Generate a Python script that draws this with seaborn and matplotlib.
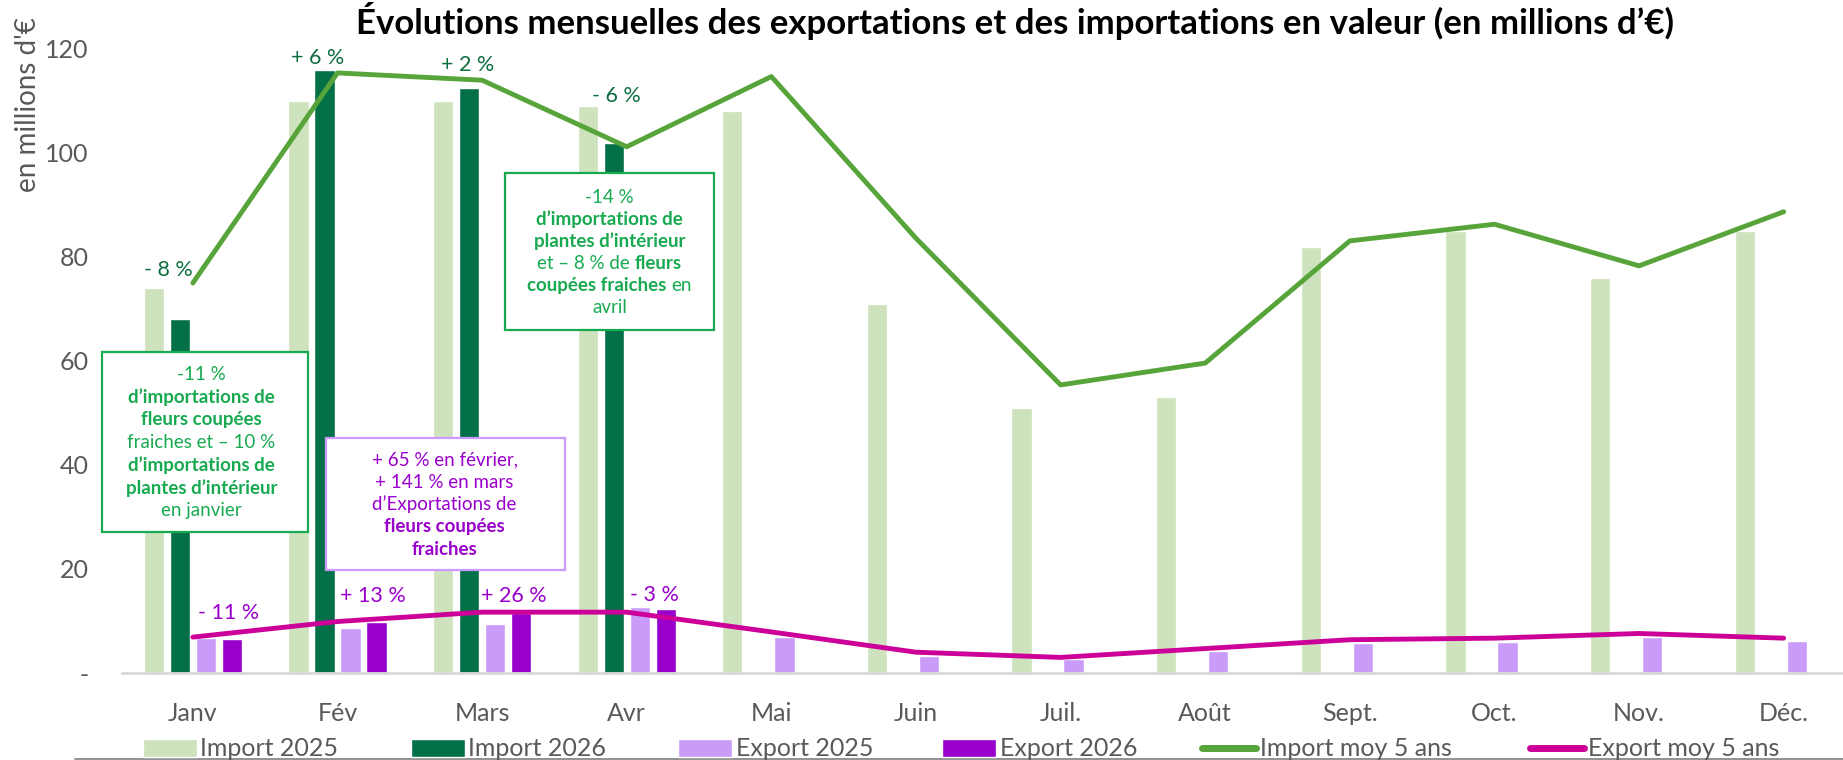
import numpy as np
import pandas as pd
import matplotlib
matplotlib.use("Agg")
import matplotlib.pyplot as plt
import seaborn as sns
from matplotlib.patches import Rectangle, Patch
from matplotlib.lines import Line2D
from matplotlib.transforms import ScaledTranslation

# --- data (millions d'€) ---
mois = ['Janv', 'Fév', 'Mars', 'Avr', 'Mai', 'Juin', 'Juil.', 'Août', 'Sept.', 'Oct.', 'Nov.', 'Déc.']
import_2025 = [74, 110, 110, 109, 108, 71, 51, 53, 82, 85, 76, 85]
import_2026 = [68, 116, 112.5, 102]
export_2025 = [6.7, 8.7, 9.5, 12.7, 7.0, 3.3, 2.7, 4.2, 5.8, 5.9, 7.0, 6.1]
export_2026 = [6.6, 9.8, 11.5, 12.4]
import_moy5 = [75, 115.4, 114, 101.2, 114.7, 83.6, 55.4, 59.6, 83.1, 86.3, 78.3, 88.7]
export_moy5 = [6.9, 9.9, 11.7, 11.7, 7.9, 4.0, 3.0, 4.7, 6.4, 6.7, 7.6, 6.7]

var_import = ['- 8 %', '+ 6 %', '+ 2 %', '- 6 %']
var_export = ['- 11 %', '+ 13 %', '+ 26 %', '- 3 %']

series = ['Import 2025', 'Import 2026', 'Export 2025', 'Export 2026']
couleurs = {'Import 2025': '#cde2bd', 'Import 2026': '#037048',
            'Export 2025': '#c99cfa', 'Export 2026': '#9900cc'}
c_imp_moy = '#57a53a'
c_exp_moy = '#cc0099'
vert_txt = '#0d6e3f'
vert_box = '#17aa50'
violet = '#9900cc'
gris = '#595959'

rows = []
for nom, vals in zip(series, [import_2025, import_2026, export_2025, export_2026]):
    for m, v in zip(mois, vals):
        rows.append({'mois': m, 'serie': nom, 'valeur': v})
df = pd.DataFrame(rows)

sns.set_style("white")
plt.rcParams['font.family'] = ['Lato', 'DejaVu Sans']

W, H = 1843, 760
fig = plt.figure(figsize=(W / 100, H / 100), dpi=100)
ax = fig.add_axes([122 / W, 87 / H, 1 - 122 / W, 650 / H])

sns.barplot(data=df, x='mois', y='valeur', hue='serie', order=mois, hue_order=series,
            palette=couleurs, width=0.72, gap=0.22, errorbar=None, legend=False,
            saturation=1, ax=ax, zorder=2)

x = np.arange(len(mois))
sns.lineplot(x=x, y=import_moy5, color=c_imp_moy, lw=3.5, ax=ax, zorder=4,
             solid_capstyle='round')
sns.lineplot(x=x, y=export_moy5, color=c_exp_moy, lw=3.5, ax=ax, zorder=4,
             solid_capstyle='round')

ax.set_xlim(-0.49, 11.41)
ax.set_ylim(0, 125)
ax.set_yticks([0, 20, 40, 60, 80, 100, 120])
ax.set_yticklabels(['-', '20', '40', '60', '80', '100', '120'])
ax.set_xticks(x)
ax.set_xticklabels(mois)
ax.tick_params(axis='both', length=0, labelsize=18, labelcolor=gris)
ax.tick_params(axis='x', pad=21)
ax.tick_params(axis='y', pad=24)
ax.set_xlabel('')
ax.set_ylabel('')
for s in ['top', 'right', 'left']:
    ax.spines[s].set_visible(False)
ax.spines['bottom'].set_color('#d9d9d9')
ax.spines['bottom'].set_linewidth(2)

fig.text(0.015, 1 - 105 / H, "en millions d'€", rotation=90, ha='center', va='center',
         fontsize=20, color=gris)
fig.suptitle("Évolutions mensuelles des exportations et des importations en valeur (en millions d’€)",
             x=0.551, y=0.972, va='center', fontsize=25, fontweight='bold', color='black')

# variation labels
pos_imp = [(-0.17, 77.5), (0.865, 118.2), (1.90, 117), (2.93, 111)]
for (px, py), t in zip(pos_imp, var_import):
    ax.text(px, py, t, ha='center', va='center', fontsize=15.5, color=vert_txt, zorder=6)
pos_exp = [(0.25, 11.6), (1.245, 14.9), (2.22, 14.9), (3.195, 15.0)]
for (px, py), t in zip(pos_exp, var_export):
    ax.text(px, py, t, ha='center', va='center', fontsize=15.5, color=violet, zorder=6)

# text boxes
fs_box = 13.5
renderer = fig.canvas.get_renderer()


def largeur(s, weight):
    t = ax.text(0, 0, s, fontsize=fs_box, fontweight=weight)
    w = t.get_window_extent(renderer).width
    t.remove()
    return w


esp = largeur('x x', 'normal') - largeur('xx', 'normal')


def ligne(xc, yc, parts, color):
    textes, larg = [], []
    for s, w in parts:
        t = ax.text(xc, yc, s, fontsize=fs_box, fontweight=w, color=color,
                    ha='left', va='center', zorder=7, clip_on=False)
        textes.append(t)
        larg.append(t.get_window_extent(renderer).width)
    total = sum(larg) + esp * (len(parts) - 1)
    off = -total / 2
    for t, w in zip(textes, larg):
        t.set_transform(ax.transData + ScaledTranslation(off / 100, 0, fig.dpi_scale_trans))
        off += w + esp


def boite(x0, x1, y0, y1, lignes, xc, ytop, dy, color, edge):
    ax.add_patch(Rectangle((x0, y0), x1 - x0, y1 - y0, facecolor='white', edgecolor=edge,
                           lw=1.6, zorder=5, clip_on=False))
    for i, parts in enumerate(lignes):
        ligne(xc, ytop - i * dy, parts, color)


B, N = 'bold', 'normal'
boite(-0.63, 0.795, 27.1, 61.8,
      [[('-11 %', N)], [('d’importations de', B)], [('fleurs coupées', B)],
       [('fraiches et – 10 %', N)], [('d’importations de', B)], [('plantes d’intérieur', B)],
       [('en janvier', N)]],
      0.06, 57.4, 4.35, vert_box, vert_box)
boite(2.16, 3.60, 66.0, 96.2,
      [[('-14 %', N)], [('d’importations de', B)], [('plantes d’intérieur', B)],
       [('et – 8 % de', N), ('fleurs', B)], [('coupées fraiches', B), ('en', N)],
       [('avril', N)]],
      2.88, 91.5, 4.25, vert_box, vert_box)
boite(0.92, 2.57, 19.8, 45.2,
      [[('+ 65 % en février,', N)], [('+ 141 % en mars', N)], [('d’Exportations de', N)],
       [('fleurs coupées', B)], [('fraiches', B)]],
      1.74, 41.0, 4.3, violet, '#cc99ff')

# legend: one entry per legend so each sits where the reference puts it
handles = [Patch(facecolor=couleurs[s], label=s) for s in series]
handles += [Line2D([], [], color=c_imp_moy, lw=5, label='Import moy 5 ans', solid_capstyle='round'),
            Line2D([], [], color=c_exp_moy, lw=5, label='Export moy 5 ans', solid_capstyle='round')]
x_leg = [143, 411, 678, 942, 1202, 1530]
for h, xl in zip(handles, x_leg):
    fig.legend(handles=[h], loc='center left', bbox_to_anchor=(xl / W, 1 - 749 / H),
               frameon=False, fontsize=18, labelcolor=gris, handlelength=2.15,
               handletextpad=0.15, borderpad=0, borderaxespad=0)

fig.add_artist(Line2D([75 / W, 1], [1.5 / H, 1.5 / H], color='#7f7f7f', lw=1.2,
                      transform=fig.transFigure))

fig.savefig('out.png', dpi=100)
